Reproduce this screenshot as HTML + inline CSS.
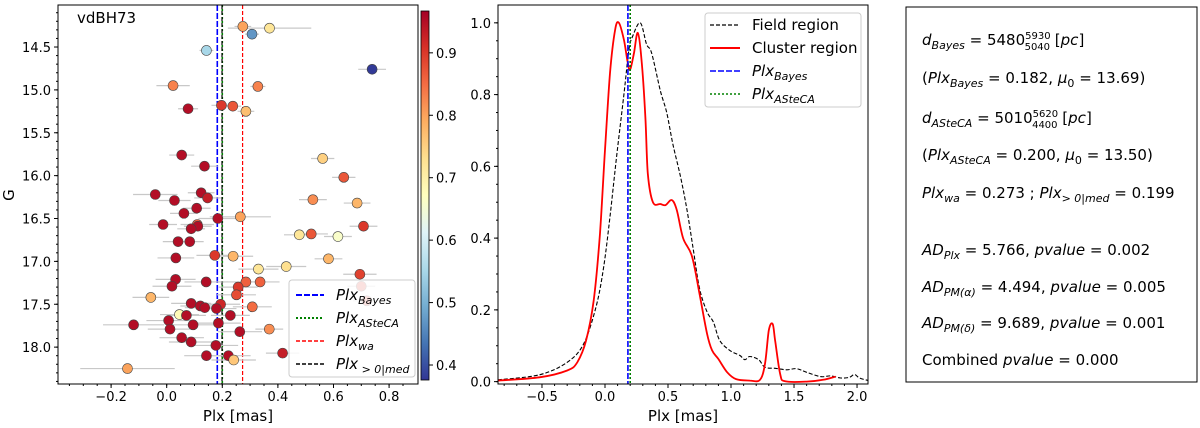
<!DOCTYPE html>
<html><head><meta charset="utf-8">
<style>
html,body{margin:0;padding:0;background:#fff;}
svg{display:block;font-family:"DejaVu Sans","Liberation Sans",sans-serif;}
.tk{font-size:13px;fill:#000;}
.lb{font-size:15px;fill:#000;}
.it{font-style:italic;}
</style></head>
<body>
<svg id="chart" width="1200" height="428" viewBox="0 0 1200 428" xmlns="http://www.w3.org/2000/svg"></svg>
<script>
// ---- Left panel data (CMD) ----
const starPlx = [0.274,0.370,0.307,0.143,0.739,0.023,0.328,0.197,0.238,0.285,0.077,0.054,0.561,0.136,0.637,-0.041,0.124,0.147,0.028,0.526,0.685,0.062,0.108,0.184,0.265,-0.013,0.110,0.112,0.088,0.708,0.477,0.520,0.616,0.041,0.083,0.173,0.239,0.033,0.582,0.330,0.430,0.695,0.032,0.142,0.285,0.336,0.019,0.257,0.251,0.700,-0.057,0.088,0.194,0.308,0.121,0.137,0.179,0.720,0.046,0.071,0.229,0.007,0.186,-0.119,0.095,0.012,0.369,0.263,0.054,0.088,0.177,0.417,0.222,0.143,0.241,-0.141];
const starG = [14.26,14.28,14.35,14.54,14.76,14.95,14.96,15.18,15.19,15.25,15.22,15.76,15.80,15.89,16.02,16.22,16.20,16.26,16.29,16.28,16.32,16.44,16.38,16.50,16.48,16.57,16.57,16.59,16.62,16.59,16.69,16.68,16.71,16.77,16.77,16.93,16.94,16.96,16.97,17.09,17.06,17.15,17.21,17.24,17.24,17.24,17.29,17.30,17.39,17.29,17.42,17.49,17.50,17.53,17.52,17.54,17.55,17.46,17.62,17.63,17.63,17.69,17.72,17.74,17.74,17.79,17.79,17.82,17.89,17.94,17.98,18.07,18.10,18.10,18.15,18.25];
const starProb = [0.80,0.72,0.47,0.55,0.38,0.83,0.83,0.90,0.87,0.77,0.95,0.95,0.75,0.95,0.87,0.95,0.95,0.93,0.95,0.82,0.78,0.95,0.95,0.95,0.80,0.95,0.86,0.95,0.95,0.90,0.72,0.87,0.66,0.95,0.95,0.90,0.78,0.95,0.78,0.72,0.73,0.89,0.95,0.95,0.86,0.86,0.95,0.90,0.88,0.90,0.78,0.95,0.92,0.85,0.95,0.95,0.95,0.90,0.68,0.95,0.95,0.95,0.95,0.95,0.95,0.95,0.82,0.95,0.95,0.95,0.95,0.93,0.95,0.95,0.76,0.80];
const starErr = [0.03,0.15,0.025,0.025,0.05,0.06,0.027,0.036,0.03,0.03,0.036,0.045,0.042,0.048,0.042,0.08,0.048,0.048,0.058,0.05,0.048,0.05,0.05,0.07,0.11,0.05,0.06,0.05,0.05,0.05,0.055,0.06,0.05,0.055,0.05,0.066,0.072,0.066,0.05,0.072,0.072,0.06,0.072,0.078,0.07,0.07,0.07,0.07,0.07,0.05,0.066,0.072,0.07,0.07,0.072,0.072,0.072,0.05,0.07,0.07,0.07,0.08,0.08,0.11,0.08,0.08,0.05,0.08,0.08,0.08,0.08,0.06,0.08,0.08,0.08,0.17];
const leftXTicks = [-0.2,0.0,0.2,0.4,0.6,0.8];
const leftYTicks = [14.5,15.0,15.5,16.0,16.5,17.0,17.5,18.0];
const cbTicks = [0.4,0.5,0.6,0.7,0.8,0.9];
const vlineNames = ["PlxBayes","PlxASteCA","Plxwa","Plxmed"];
const vlineVals = [0.182,0.200,0.273,0.199];
// ---- Middle panel data (KDE) ----
const fieldX = [-0.85,-0.52,-0.30,-0.17,-0.07,-0.01,0.04,0.09,0.15,0.19,0.22,0.28,0.33,0.37,0.44,0.49,0.54,0.60,0.65,0.70,0.75,0.81,0.86,0.91,0.99,1.07,1.11,1.15,1.22,1.27,1.36,1.44,1.52,1.60,1.71,1.79,1.87,1.94,1.98,2.02,2.09];
const fieldY = [0.005,0.019,0.054,0.105,0.21,0.32,0.46,0.62,0.80,0.925,0.963,1.0,0.94,0.916,0.81,0.75,0.66,0.57,0.48,0.37,0.26,0.194,0.166,0.115,0.087,0.073,0.061,0.07,0.061,0.040,0.037,0.033,0.036,0.026,0.014,0.016,0.01,0.012,0.02,0.01,0.003];
const clusterX = [-0.85,-0.52,-0.30,-0.22,-0.15,-0.09,-0.04,0.0,0.04,0.08,0.11,0.15,0.18,0.20,0.23,0.26,0.29,0.32,0.34,0.38,0.44,0.48,0.53,0.57,0.62,0.69,0.75,0.81,0.85,0.90,0.97,1.04,1.15,1.23,1.27,1.30,1.33,1.35,1.39,1.43,1.60,1.73,1.83];
const clusterY = [0.003,0.012,0.031,0.054,0.115,0.226,0.413,0.646,0.86,0.98,1.0,0.953,0.89,0.87,0.916,0.972,0.897,0.74,0.58,0.50,0.495,0.492,0.506,0.478,0.40,0.35,0.245,0.133,0.087,0.063,0.026,0.007,0.003,0.005,0.05,0.143,0.161,0.115,0.021,0.001,0,0.005,0.014];
const midXTicks = [-0.5,0.0,0.5,1.0,1.5,2.0];
const midYTicks = [0.0,0.2,0.4,0.6,0.8,1.0];

const NS="http://www.w3.org/2000/svg";
const svg=document.getElementById('chart');
function mk(tag,attrs,parent){const e=document.createElementNS(NS,tag);for(const k in attrs)e.setAttribute(k,attrs[k]);(parent||svg).appendChild(e);return e;}
function fmt(v){return (v<0?"\u2212":"")+Math.abs(v).toFixed(1);}

const L={x0:58,x1:418,y0:5,y1:384,xmin:-0.391,xmax:0.904,ymin:14.01,ymax:18.43};
const M={x0:498,x1:868,y0:5,y1:384,xmin:-0.849,xmax:2.087,ymin:-0.0066,ymax:1.0497};
function lx(v){return L.x0+(v-L.xmin)/(L.xmax-L.xmin)*(L.x1-L.x0);}
function ly(v){return L.y0+(v-L.ymin)/(L.ymax-L.ymin)*(L.y1-L.y0);}
function mx(v){return M.x0+(v-M.xmin)/(M.xmax-M.xmin)*(M.x1-M.x0);}
function my(v){return M.y1-(v-M.ymin)/(M.ymax-M.ymin)*(M.y1-M.y0);}

const cstops=["#313695","#4575b4","#74add1","#abd9e9","#e0f3f8","#ffffbf","#fee090","#fdae61","#f46d43","#d73027","#a50026"];
const CBMIN=0.376,CBMAX=0.967;
function hex(h){return [1,3,5].map(i=>parseInt(h.substr(i,2),16));}
function cmap(t){t=Math.max(0,Math.min(1,t))*10;const i=Math.min(9,Math.floor(t)),f=t-i;const a=hex(cstops[i]),b=hex(cstops[i+1]);return "rgb("+a.map((c,k)=>Math.round(c+(b[k]-c)*f)).join(",")+")";}

// ===== LEFT PANEL =====
const gL=mk('g',{});


const vStyles=[{c:"#0000ff",d:"6,2",w:1.6},{c:"#008000",d:"2,2",w:1.6},{c:"#ff0000",d:"4,2",w:1.2},{c:"#000000",d:"4,2",w:1.2}];
vlineVals.forEach((v,i)=>{
  const ln=mk('line',{x1:lx(v),x2:lx(v),y1:L.y0,y2:L.y1,stroke:vStyles[i].c,'stroke-width':vStyles[i].w,'stroke-dasharray':vStyles[i].d},gL);
  
  
});
starPlx.forEach((p,i)=>{
  const e=mk('line',{x1:lx(p-starErr[i]),x2:lx(p+starErr[i]),y1:ly(starG[i]),y2:ly(starG[i]),stroke:"#c8c8c8",'stroke-width':1.2},gL);
  
  
});
starPlx.forEach((p,i)=>{
  const c=mk('circle',{cx:lx(p),cy:ly(starG[i]),r:5,fill:cmap((starProb[i]-CBMIN)/(CBMAX-CBMIN)),stroke:"#444",'stroke-width':0.6},gL);
  
  
});
mk('rect',{x:L.x0,y:L.y0,width:L.x1-L.x0,height:L.y1-L.y0,fill:"none",stroke:"#000",'stroke-width':1},gL);
for(let v=-0.35;v<=0.9;v+=0.05){const X=lx(v);mk('line',{x1:X,x2:X,y1:L.y1,y2:L.y1+2,stroke:"#000"},gL);}
leftXTicks.forEach(v=>{const X=lx(v);mk('line',{x1:X,x2:X,y1:L.y1,y2:L.y1+4,stroke:"#000"},gL);
  const t=mk('text',{x:X,y:L.y1+17,'text-anchor':'middle',class:'tk'},gL);t.textContent=fmt(v);
  });
for(let v=14.1;v<=18.42;v+=0.1){const Y=ly(v);mk('line',{x1:L.x0,x2:L.x0-2,y1:Y,y2:Y,stroke:"#000"},gL);}
leftYTicks.forEach(v=>{const Y=ly(v);mk('line',{x1:L.x0,x2:L.x0-4,y1:Y,y2:Y,stroke:"#000"},gL);
  const t=mk('text',{x:L.x0-7,y:Y+5,'text-anchor':'end',class:'tk'},gL);t.textContent=v.toFixed(1);
  });
let t=mk('text',{x:238,y:421,'text-anchor':'middle',class:'lb'},gL);t.textContent="Plx [mas]";

t=mk('text',{x:14,y:195,'text-anchor':'middle',class:'lb',transform:'rotate(-90 14 195)'},gL);t.textContent="G";

t=mk('text',{x:77,y:23,class:'lb'},gL);t.textContent="vdBH73";

const lg=mk('g',{},gL);


mk('rect',{x:289,y:280,width:126,height:97,rx:3,fill:"rgba(255,255,255,0.85)",stroke:"#ccc"},lg);
const legLab=[["Plx","Bayes"],["Plx","ASteCA"],["Plx","wa"],["Plx"," > 0|med"]];
legLab.forEach((lab,i)=>{const Y=295+i*23;
  mk('line',{x1:296,x2:324,y1:Y,y2:Y,stroke:vStyles[i].c,'stroke-width':vStyles[i].w+0.3,'stroke-dasharray':vStyles[i].d},lg);
  const tt=mk('text',{x:336,y:Y+5,class:'lb it'},lg);
  tt.innerHTML=lab[0]+'<tspan dy="4" font-size="11">'+lab[1]+'</tspan>';
  });
const cb=mk('g',{});


const defs=mk('defs',{});
const grad=mk('linearGradient',{id:'cbg',x1:0,y1:1,x2:0,y2:0},defs);
cstops.forEach((c,i)=>mk('stop',{offset:(i*10)+'%','stop-color':c},grad));
mk('rect',{x:421,y:11,width:8,height:369,fill:"url(#cbg)",stroke:"#000",'stroke-width':0.8},cb);
function cby(v){return 380-(v-CBMIN)/(CBMAX-CBMIN)*369;}
cbTicks.forEach(v=>{const Y=cby(v);mk('line',{x1:429,x2:433,y1:Y,y2:Y,stroke:"#000"},cb);
  const tt=mk('text',{x:436,y:Y+5,class:'tk'},cb);tt.textContent=v.toFixed(1);
  });

// ===== MIDDLE PANEL =====
const gM=mk('g',{});


function path(xs,ys){
  const P=xs.map((x,i)=>[mx(x),my(ys[i])]);
  let d='M'+P[0][0].toFixed(1)+','+P[0][1].toFixed(1);
  for(let i=0;i<P.length-1;i++){
    const p0=P[Math.max(0,i-1)],p1=P[i],p2=P[i+1],p3=P[Math.min(P.length-1,i+2)];
    const c1=[p1[0]+(p2[0]-p0[0])/6,p1[1]+(p2[1]-p0[1])/6];
    const c2=[p2[0]-(p3[0]-p1[0])/6,p2[1]-(p3[1]-p1[1])/6];
    d+='C'+c1[0].toFixed(1)+','+c1[1].toFixed(1)+' '+c2[0].toFixed(1)+','+c2[1].toFixed(1)+' '+p2[0].toFixed(1)+','+p2[1].toFixed(1);
  }
  return d;
}
let p=mk('path',{d:path(fieldX,fieldY),fill:"none",stroke:"#000",'stroke-width':1.1,'stroke-dasharray':"4,2"},gM);

p=mk('path',{d:path(clusterX,clusterY),fill:"none",stroke:"#ff0000",'stroke-width':1.8,'stroke-linejoin':'round'},gM);

[0,1].forEach(i=>{const ln=mk('line',{x1:mx(vlineVals[i]),x2:mx(vlineVals[i]),y1:M.y0,y2:M.y1,stroke:vStyles[i].c,'stroke-width':1.6,'stroke-dasharray':vStyles[i].d},gM);
  });
mk('rect',{x:M.x0,y:M.y0,width:M.x1-M.x0,height:M.y1-M.y0,fill:"none",stroke:"#000"},gM);
for(let v=-0.8;v<=2.05;v+=0.1){const X=mx(v);mk('line',{x1:X,x2:X,y1:M.y1,y2:M.y1+2,stroke:"#000"},gM);}
midXTicks.forEach(v=>{const X=mx(v);mk('line',{x1:X,x2:X,y1:M.y1,y2:M.y1+4,stroke:"#000"},gM);
  const tt=mk('text',{x:X,y:M.y1+17,'text-anchor':'middle',class:'tk'},gM);tt.textContent=fmt(v);
  });
for(let v=0;v<=1.04;v+=0.05){const Y=my(v);mk('line',{x1:M.x0,x2:M.x0-2,y1:Y,y2:Y,stroke:"#000"},gM);}
midYTicks.forEach(v=>{const Y=my(v);mk('line',{x1:M.x0,x2:M.x0-4,y1:Y,y2:Y,stroke:"#000"},gM);
  const tt=mk('text',{x:M.x0-7,y:Y+5,'text-anchor':'end',class:'tk'},gM);tt.textContent=v.toFixed(1);
  });
t=mk('text',{x:683,y:421,'text-anchor':'middle',class:'lb'},gM);t.textContent="Plx [mas]";

const mg=mk('g',{},gM);


mk('rect',{x:705,y:13,width:156,height:94,rx:3,fill:"rgba(255,255,255,0.9)",stroke:"#ccc"},mg);
const mStyles=[{c:"#000",d:"4,2",w:1.2},{c:"#ff0000",d:"",w:2},{c:"#0000ff",d:"6,2",w:1.6},{c:"#008000",d:"2,2",w:1.6}];
const mLabs=['Field region','Cluster region','Plx<tspan dy="4" font-size="11">Bayes</tspan>','Plx<tspan dy="4" font-size="11">ASteCA</tspan>'];
mLabs.forEach((lab,i)=>{const Y=25+i*23;
  const a={x1:710,x2:740,y1:Y,y2:Y,stroke:mStyles[i].c,'stroke-width':mStyles[i].w};if(mStyles[i].d)a['stroke-dasharray']=mStyles[i].d;
  mk('line',a,mg);
  const tt=mk('text',{x:752,y:Y+5,class:'lb'+(i>1?' it':'')},mg);tt.innerHTML=lab;
  });

// ===== RIGHT TEXT BOX =====
const gR=mk('g',{});


mk('rect',{x:906,y:7,width:291,height:375,fill:"#fff",stroke:"#000",'stroke-width':1},gR);
const sub=s=>'<tspan dy="4" font-size="11">'+s+'</tspan><tspan dy="-4"> </tspan>';
const lines=[
 [40,'<tspan class="it">d</tspan>'+sub('<tspan font-style="italic">Bayes</tspan>')+'= 5480<tspan dy="-6" font-size="10">5930</tspan><tspan dx="-26" dy="11" font-size="10">5040</tspan><tspan dy="-5"> [</tspan><tspan class="it">pc</tspan>]'],
 [78,'(<tspan class="it">Plx</tspan>'+sub('<tspan font-style="italic">Bayes</tspan>')+'= 0.182, <tspan class="it">μ</tspan>'+sub('0')+'= 13.69)'],
 [118,'<tspan class="it">d</tspan>'+sub('<tspan font-style="italic">ASteCA</tspan>')+'= 5010<tspan dy="-6" font-size="10">5620</tspan><tspan dx="-26" dy="11" font-size="10">4400</tspan><tspan dy="-5"> [</tspan><tspan class="it">pc</tspan>]'],
 [155,'(<tspan class="it">Plx</tspan>'+sub('<tspan font-style="italic">ASteCA</tspan>')+'= 0.200, <tspan class="it">μ</tspan>'+sub('0')+'= 13.50)'],
 [193,'<tspan class="it">Plx</tspan>'+sub('<tspan font-style="italic">wa</tspan>')+'= 0.273 ; <tspan class="it">Plx</tspan>'+sub('<tspan font-style="italic">&gt; 0|med</tspan>')+'= 0.199'],
 [250,'<tspan class="it">AD</tspan>'+sub('<tspan font-style="italic">Plx</tspan>')+'= 5.766, <tspan class="it">pvalue</tspan> = 0.002'],
 [287,'<tspan class="it">AD</tspan>'+sub('<tspan font-style="italic">PM(α)</tspan>')+'= 4.494, <tspan class="it">pvalue</tspan> = 0.005'],
 [323,'<tspan class="it">AD</tspan>'+sub('<tspan font-style="italic">PM(δ)</tspan>')+'= 9.689, <tspan class="it">pvalue</tspan> = 0.001'],
 [360,'Combined <tspan class="it">pvalue</tspan> = 0.000']
];
lines.forEach(l=>{const tt=mk('text',{x:922,y:l[0]+5,class:'lb'},gR);tt.innerHTML=l[1];
  });
</script>
</body></html>
